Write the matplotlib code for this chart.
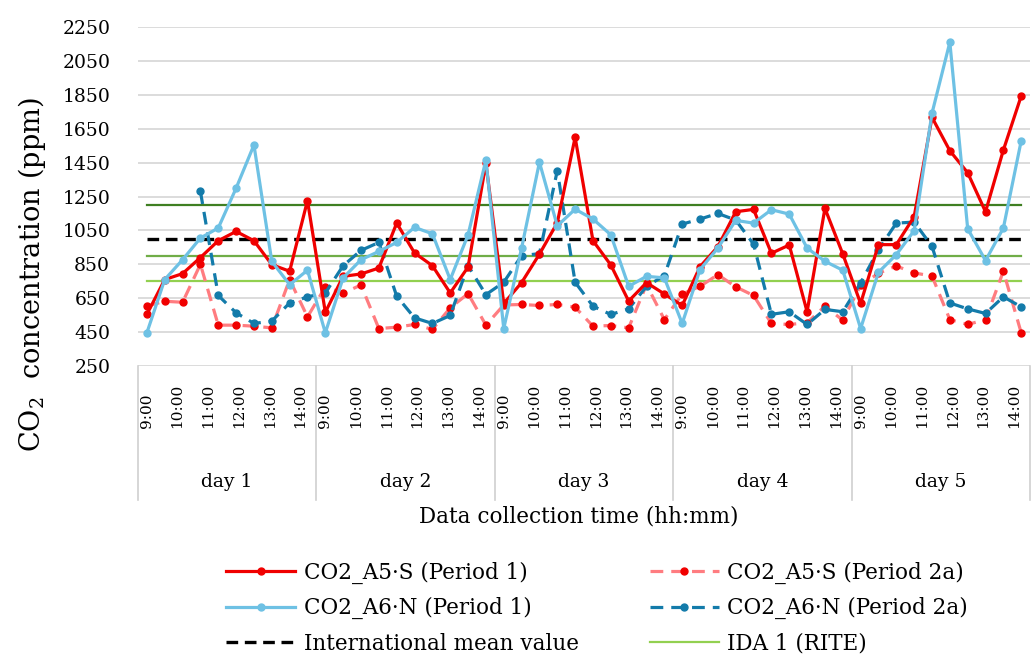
import matplotlib.pyplot as plt
import numpy as np

plt.rcParams['font.family'] = ['DejaVu Serif']
plt.rcParams['mathtext.fontset'] = 'dejavuserif'

# categories: 5 days, 10 readings per day
days = ['day 1', 'day 2', 'day 3', 'day 4', 'day 5']
hour_labels = ['9:00', '10:00', '11:00', '12:00', '13:00', '14:00']
per_day = 10

nan = np.nan
a5s_p1 = [555, 760, 795, 890, 989, 1044, 989, 848, 809, 1226,
          567, 779, 793, 828, 1093, 917, 842, 681, 834, 1446,
          619, 742, 910, 1095, 1599, 989, 846, 633, 742, 675,
          607, 836, 954, 1160, 1174, 915, 964, 570, 1180, 911,
          619, 966, 966, 1131, 1717, 1520, 1390, 1160, 1524, 1843]
a5s_p2a = [603, 632, 626, 850, 491, 491, 485, 475, 760, 540,
           716, 680, 728, 471, 479, 495, 466, 593, 677, 491,
           610, 613, 607, 613, 597, 485, 489, 475, 730, 524,
           675, 720, 789, 717, 666, 501, 495, 505, 603, 520,
           725, 797, 840, 799, 781, 524, 495, 524, 809, 446]
a6n_p1 = [446, 760, 877, 1005, 1064, 1299, 1554, 867, 730, 815,
          446, 770, 877, 926, 979, 1068, 1030, 760, 1024, 1465,
          471, 946, 1452, 1077, 1175, 1117, 1024, 720, 779, 770,
          501, 819, 946, 1109, 1093, 1172, 1146, 946, 868, 815,
          471, 803, 907, 1048, 1741, 2160, 1060, 872, 1064, 1579]
a6n_p2a = [nan, nan, nan, 1280, 666, 564, 501, 515, 622, 658,
           681, 842, 932, 979, 662, 534, 501, 548, 842, 671,
           744, 901, 913, 1402, 744, 603, 554, 587, 720, 783,
           1087, 1117, 1150, 1111, 969, 555, 570, 495, 584, 570,
           740, 936, 1093, 1099, 956, 622, 587, 560, 658, 599]

intl_mean = 1000
ida_levels = [750, 900, 1200]   # IDA 1 (RITE) is the lowest
ida_colors = ['#92D050', '#70AD47', '#3F7F22']

n = len(a5s_p1)
x = np.arange(n)

fig = plt.figure(figsize=(10.35, 6.55), dpi=100)
ax = fig.add_axes([0.1333, 0.4412, 0.862, 0.5176])

# reference lines
ax.plot(x, [ida_levels[2]] * n, color=ida_colors[2], lw=1.6, zorder=2)
ax.plot(x, [ida_levels[1]] * n, color=ida_colors[1], lw=1.6, zorder=2)
ida1, = ax.plot(x, [ida_levels[0]] * n, color=ida_colors[0], lw=1.6, zorder=2,
                label='IDA 1 (RITE)')
intl, = ax.plot(x, [intl_mean] * n, color='black', lw=2.4, ls=(0, (3.5, 2)), zorder=2,
                label='International mean value')

# data series
l1, = ax.plot(x, a5s_p1, color='#F00000', lw=2.3, marker='o', ms=5, zorder=4,
              label='CO2_A5\u00b7S (Period 1)')
l2, = ax.plot(x, a5s_p2a, color='#FF7C80', lw=2.3, ls=(0, (4, 2.5)), marker='o', ms=5,
              mfc='#F00000', mec='#F00000', zorder=3, label='CO2_A5\u00b7S (Period 2a)')
l3, = ax.plot(x, a6n_p1, color='#6EC1E4', lw=2.3, marker='o', ms=5, zorder=4,
              label='CO2_A6\u00b7N (Period 1)')
l4, = ax.plot(x, a6n_p2a, color='#137BAA', lw=2.3, ls=(0, (4, 2.5)), marker='o', ms=5,
              zorder=3, label='CO2_A6\u00b7N (Period 2a)')

ax.set_xlim(-0.5, n - 0.5)
ax.set_ylim(250, 2250)
ax.set_yticks(np.arange(250, 2251, 200))
ax.set_xticks([])
ax.grid(axis='y', color='#D9D9D9', lw=1.3, zorder=0)
ax.set_axisbelow(True)
for s in ax.spines.values():
    s.set_visible(False)
ax.tick_params(axis='y', length=0, pad=20, labelsize=13.5)

# multi-level category axis
trans = ax.get_xaxis_transform()
label_pos = np.linspace(0, 8.6, len(hour_labels))
for d, day in enumerate(days):
    for p, lab in zip(label_pos, hour_labels):
        ax.text(d * per_day + p, -0.183, lab, rotation=90, ha='center', va='bottom',
                fontsize=11, transform=trans, clip_on=False)
    ax.text(d * per_day + (per_day - 1) / 2, -0.342, day, ha='center', va='center',
            fontsize=13.5, transform=trans, clip_on=False)
for b in np.arange(-0.5, n, per_day):
    ax.plot([b, b], [0, -0.395], color='#D0D0D0', lw=1.2, transform=trans, clip_on=False)

fig.text(0.559, 1 - 517 / 655, 'Data collection time (hh:mm)', ha='center', va='center',
         fontsize=15.5)
fig.text(0.031, 1 - 275 / 655, r'CO$_2$  concentration (ppm)', rotation=90,
         ha='center', va='center', fontsize=19.5)

fig.legend([l1, l3, intl, l2, l4, ida1],
           [h.get_label() for h in [l1, l3, intl, l2, l4, ida1]],
           ncol=2, loc='upper center', bbox_to_anchor=(0.577, 1 - 542 / 655),
           frameon=False, fontsize=15.5, handlelength=3.2, columnspacing=3.3,
           labelspacing=0.62, handletextpad=0.4)

fig.savefig('out.png', dpi=100)
